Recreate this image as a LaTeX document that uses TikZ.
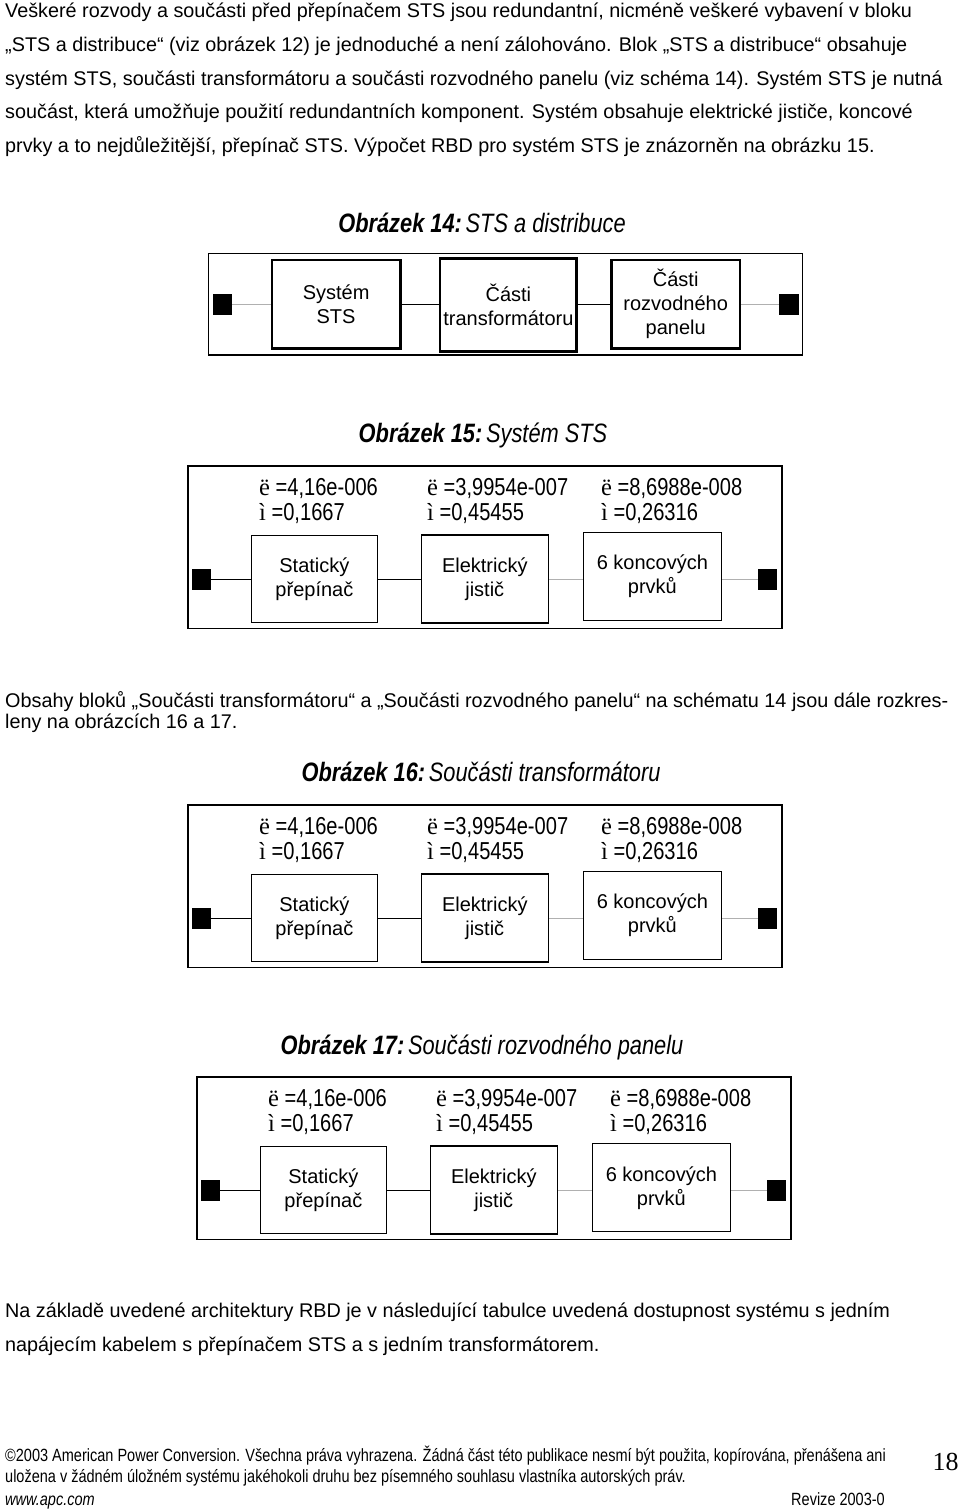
\documentclass[tikz,border=0pt]{standalone}
\usepackage{fontspec}
\setmainfont{Liberation Sans}
\newfontfamily\narrowf{Liberation Sans}[FakeStretch=0.82]
\newfontfamily\seriff{Liberation Serif}
\newcommand{\bodyf}{\fontsize{19.8}{23}\selectfont}
\newcommand{\titlef}{\narrowf\fontsize{26.6}{31}\selectfont}
\newcommand{\labf}{\narrowf\fontsize{24.5}{28}\selectfont}
\newcommand{\boxf}{\fontsize{20}{24}\selectfont}
\newcommand{\footf}{\narrowf\fontsize{17.7}{21}\selectfont}
\definecolor{linegray}{HTML}{B0B0B0}
\begin{document}
\begin{tikzpicture}[x=1pt,y=-1pt,
  txt/.style={inner sep=0pt, anchor=base west, font=\bodyf},
  ttl/.style={inner sep=0pt, anchor=base},
  lab/.style={inner sep=0pt, anchor=base west, font=\labf},
  foot/.style={inner sep=0pt, font=\footf},
  outerbox/.style={draw, line width=1.5pt, inner sep=0pt},
  thickbox/.style={draw, line width=2.6pt, align=center, inner sep=0pt, font=\boxf},
  thinbox/.style={draw, line width=1.1pt, align=center, inner sep=0pt, font=\boxf},
  sq/.style={fill=black, inner sep=0pt, minimum width=19.5pt, minimum height=20.5pt},
  blk/.style={line width=1.4pt, black},
  gry/.style={line width=0.8pt, linegray},
]
\useasboundingbox[fill=white] (0,0) rectangle (960,1512);

% ---------- top paragraph
\node[txt] (p1) at (5,18) {Veškeré rozvody a součásti před přepínačem STS jsou redundantní, nicméně veškeré vybavení v bloku};
\node[txt] (p2) at (5,52) {„STS a distribuce“ (viz obrázek 12) je jednoduché a není zálohováno. Blok „STS a distribuce“ obsahuje};
\node[txt] (p3) at (5,85) {systém STS, součásti transformátoru a součásti rozvodného panelu (viz schéma 14). Systém STS je nutná};
\node[txt] (p4) at (5,118) {součást, která umožňuje použití redundantních komponent. Systém obsahuje elektrické jističe, koncové};
\node[txt] (p5) at (5,152) {prvky a to nejdůležitější, přepínač STS. Výpočet RBD pro systém STS je znázorněn na obrázku 15.};

% ---------- Figure 14
\node[ttl] (t14) at (482,232) {{\titlef\bfseries\itshape Obrázek 14:} {\titlef\itshape STS a distribuce}};
\node[outerbox, minimum width=593.8pt, minimum height=101.7pt] (o14) at (505.5,304.2) {};
\node[sq] (sqL14) at (222.5,304.5) {};
\node[sq] (sqR14) at (789,304.5) {};
\node[thickbox, minimum width=128.6pt, minimum height=88.3pt] (b14a) at (336.1,304.2) {Systém\\STS};
\node[thickbox, minimum width=136.7pt, minimum height=93.4pt] (b14b) at (508.4,305) {Části\\transformátoru};
\node[thickbox, minimum width=128.6pt, minimum height=88.3pt] (b14c) at (675.7,304.2) {Části\\rozvodného\\panelu};
\draw[gry] (sqL14.east) -- (sqL14.east -| b14a.west);
\draw[blk] (b14a.east |- sqL14.east) -- (b14b.west |- sqL14.east);
\draw[blk] (b14b.east |- sqL14.east) -- (b14c.west |- sqL14.east);
\draw[gry] (b14c.east |- sqR14.west) -- (sqR14.west);

% ---------- Figures 15, 16, 17
\node[ttl] (t15) at (483,442) {{\titlef\bfseries\itshape Obrázek 15:} {\titlef\itshape Systém STS}};
\node[ttl] (t16) at (481,781) {{\titlef\bfseries\itshape Obrázek 16:} {\titlef\itshape Součásti transformátoru}};
\node[ttl] (t17) at (482,1054) {{\titlef\bfseries\itshape Obrázek 17:} {\titlef\itshape Součásti rozvodného panelu}};

\foreach \i/\dx/\dy in {15/0/0,16/0/339,17/9/611}{
\begin{scope}[shift={(\dx,\dy)}]
  \node[outerbox, minimum width=593.9pt, minimum height=162.3pt] (o\i) at (484.85,547.15) {};
  \node[lab] (la\i) at (259,495) {{\seriff ë} =4,16e-006};
  \node[lab] (lb\i) at (259,520) {{\seriff ì} =0,1667};
  \node[lab] (lc\i) at (427,495) {{\seriff ë} =3,9954e-007};
  \node[lab] (ld\i) at (427,520) {{\seriff ì} =0,45455};
  \node[lab] (le\i) at (601,495) {{\seriff ë} =8,6988e-008};
  \node[lab] (lf\i) at (601,520) {{\seriff ì} =0,26316};
  \node[sq] (sqL\i) at (201.4,579.3) {};
  \node[sq] (sqR\i) at (767.5,579.3) {};
  \node[thinbox, minimum width=126.7pt, minimum height=87.7pt] (ba\i) at (314.4,578.9) {Statický\\přepínač};
  \node[thinbox, minimum width=127.5pt, minimum height=88pt] (bb\i) at (484.8,579) {Elektrický\\jistič};
  \node[thinbox, minimum width=138.7pt, minimum height=88pt] (bc\i) at (652.4,576.7) {6 koncových\\prvků};
  \draw[blk] (sqL\i.east) -- (sqL\i.east -| ba\i.west);
  \draw[blk] (ba\i.east |- sqL\i.east) -- (bb\i.west |- sqL\i.east);
  \draw[gry] (bb\i.east |- sqL\i.east) -- (bc\i.west |- sqL\i.east);
  \draw[gry] (bc\i.east |- sqR\i.west) -- (sqR\i.west);
\end{scope}
}

% ---------- middle paragraph
\node[txt] (q1) at (5,707) {Obsahy bloků „Součásti transformátoru“ a „Součásti rozvodného panelu“ na schématu 14 jsou dále rozkres-};
\node[txt] (q2) at (5,728) {leny na obrázcích 16 a 17.};

% ---------- bottom paragraph
\node[txt] (r1) at (5,1317) {Na základě uvedené architektury RBD je v následující tabulce uvedená dostupnost systému s jedním};
\node[txt] (r2) at (5,1351) {napájecím kabelem s přepínačem STS a s jedním transformátorem.};

% ---------- footer
\node[foot, anchor=base west] (f1) at (5,1461) {©2003 American Power Conversion. Všechna práva vyhrazena. Žádná část této publikace nesmí být použita, kopírována, přenášena ani};
\node[foot, anchor=base west] (f2) at (5,1482) {uložena v žádném úložném systému jakéhokoli druhu bez písemného souhlasu vlastníka autorských práv.};
\node[foot, anchor=base west] (f3) at (5,1505) {\itshape www.apc.com};
\node[foot, anchor=base east] (f4) at (885,1505) {Revize 2003-0};
\node[inner sep=0pt, anchor=base, font=\seriff\fontsize{26}{30}\selectfont] (pg) at (945.5,1470) {18};
\end{tikzpicture}
\end{document}
